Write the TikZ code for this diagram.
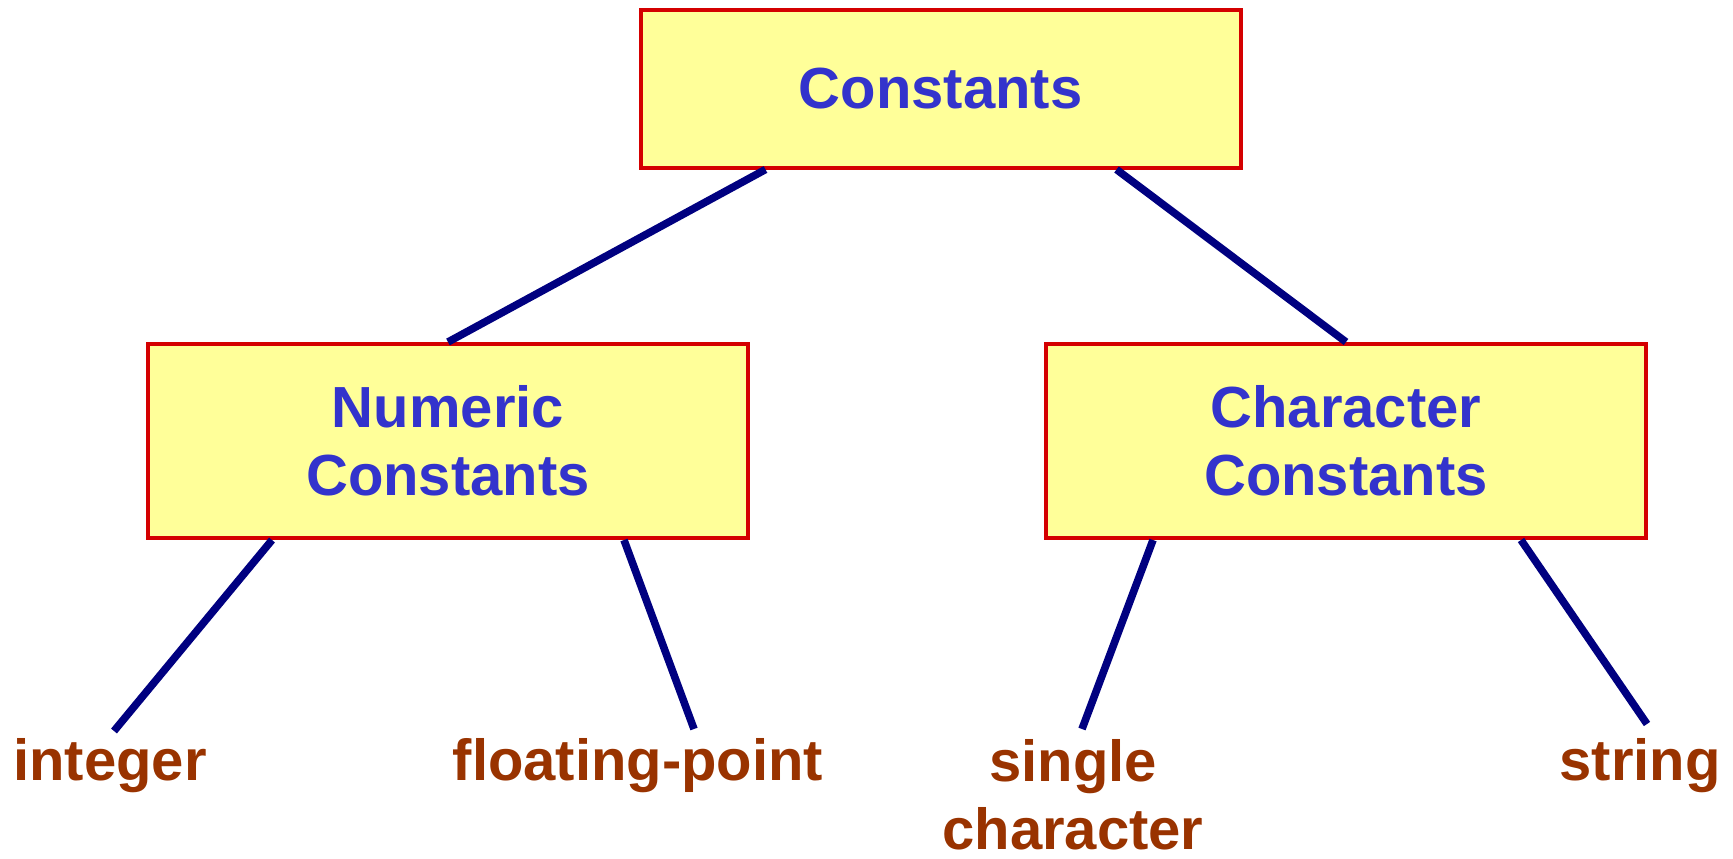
\documentclass[tikz,border=0pt]{standalone}
\usepackage{fontspec}
\setmainfont{Liberation Sans}
\usetikzlibrary{calc}
\definecolor{boxfill}{HTML}{FFFF99}
\definecolor{boxline}{HTML}{D40000}
\definecolor{boxtext}{HTML}{3333CC}
\definecolor{linkcol}{HTML}{000080}
\definecolor{leaftext}{HTML}{993300}
\tikzset{
  catbox/.style={draw=boxline, line width=2pt, fill=boxfill, text=boxtext,
    font=\fontsize{29}{34}\selectfont\bfseries, align=center,
    minimum width=600*0.5pt, minimum height=158*0.5pt, inner sep=0pt},
  subbox/.style={catbox, minimum height=194*0.5pt},
  leaf/.style={text=leaftext, font=\fontsize{29}{34}\selectfont\bfseries,
    align=center, inner sep=0pt, anchor=base},
  link/.style={draw=linkcol, line width=3.8pt}
}
\begin{document}
\begin{tikzpicture}[x=0.5pt,y=-0.5pt]
\useasboundingbox (0,0) rectangle (1733,858);
\node[catbox] (top) at (940.5,88.5) {Constants};
\node[subbox] (num) at (448,441) {Numeric\\Constants};
\node[subbox] (chr) at (1346,441) {Character\\Constants};
\node[leaf] (int) at (110,780) {integer};
\node[leaf] (flt) at (638,780) {floating-point};
\node[leaf] (sgl) at (1073,849) {single\\character};
\node[leaf] (str) at (1640,780) {string};
\coordinate (intE) at (114,731);
\coordinate (fltE) at (694,729);
\coordinate (sglE) at (1082,729);
\coordinate (strE) at (1647,724);
\draw[link] ([xshift=-175*0.5pt]top.south) -- (num.north);
\draw[link] ([xshift=176*0.5pt]top.south) -- (chr.north);
\draw[link] ([xshift=-176*0.5pt]num.south) -- (intE);
\draw[link] ([xshift=176*0.5pt]num.south) -- (fltE);
\draw[link] ([xshift=-193*0.5pt]chr.south) -- (sglE);
\draw[link] ([xshift=175*0.5pt]chr.south) -- (strE);
\end{tikzpicture}
\end{document}
